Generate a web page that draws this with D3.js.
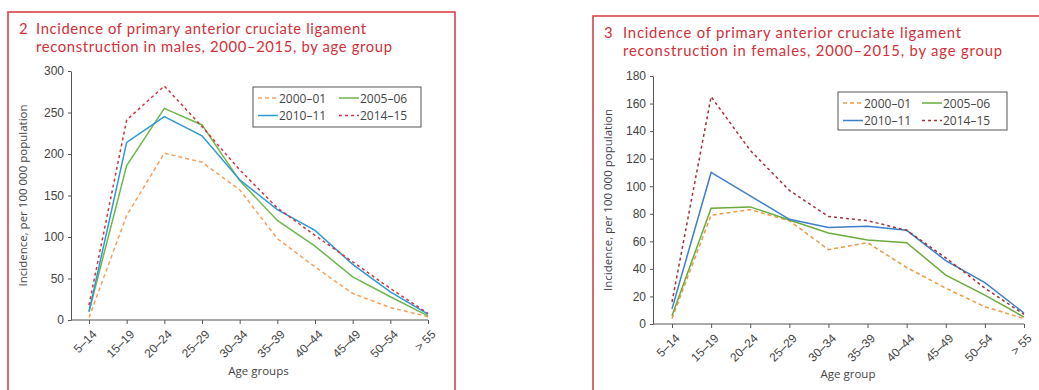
<!DOCTYPE html>
<html lang="en">
<head>
<meta charset="utf-8">
<title>ACL reconstruction incidence</title>
<script src="https://d3js.org/d3.v7.min.js"></script>
<style>
  body{margin:0;background:#fff;font-family:"Open Sans",sans-serif;}
  .tick text{font-size:12px;fill:#444;}
  .axis path,.axis line{stroke:#555;}
  .title{font-family:Lato,sans-serif;font-size:14.8px;fill:#d22f38;}
</style>
</head>
<body>
<svg id="fig" width="1039" height="390"></svg>
<script>
// age groups on the x axis
var ageGroups = ["5–14","15–19","20–24","25–29","30–34","35–39","40–44","45–49","50–54","> 55"]
var seriesNames = ["2000–01","2005–06","2010–11","2014–15"]

// males, per 100 000 population
var male2000 = [3,126,201,190,157,98,64,32,15,4]
var male2005 = [10,186,255,235,168,120,89,52,28,5]
var male2010 = [10,214,245,222,169,133,108,67,34,7]
var male2014 = [18,241,282,233,181,135,102,70,38,8]
var maleTicks = [0,50,100,150,200,250,300]

// females, per 100 000 population
var female2000 = [4,79,83,75,54,59,41,26,12.5,4]
var female2005 = [6,84,85,75.5,66,61,59,35.5,21,5]
var female2010 = [11,110,93,76,70,71,68,46,30,8]
var female2014 = [16,165,126,97,78,75,68,48,26,7]
var femaleTicks = [0,20,40,60,80,100,120,140,160,180]

var svg = d3.select("#fig")

function drawPanel(p){
    var g = svg.append("g")

    //red frame, runs off the bottom (and right for panel 3)
    g.append("rect")
        .attr("x",p.frame[0]).attr("y",p.frame[1])
        .attr("width",p.frame[2]).attr("height",p.frame[3])
        .attr("fill","none").attr("stroke","#d9434c").attr("stroke-width",1.6)

    //title, stretched to the widths of the printed title
    g.append("text").attr("class","title").attr("x",p.numX).attr("y",p.titleY).text(p.num)
    p.title.forEach(function(t,i){
        g.append("text").attr("class","title")
            .attr("x",p.titleX).attr("y",p.titleY+18*i)
            .attr("textLength",p.titleW[i]).attr("lengthAdjust","spacing")
            .text(t)
    })

    var x = d3.scalePoint().domain(ageGroups).range([p.x0,p.x1])
    var y = d3.scaleLinear().domain([0,p.ymax]).range([p.y0,p.y1])

    //x axis: line from y axis to last tick
    var xa = g.append("g").attr("class","axis")
        .attr("transform","translate(0,"+p.y0+")")
        .call(d3.axisBottom(x).tickSize(4).tickSizeOuter(0))
    xa.select(".domain").attr("d","M"+p.axisX+",0H"+p.x1)
    xa.selectAll(".tick text")
        .attr("text-anchor","end")
        .attr("dx","0").attr("dy","0")
        .attr("transform","translate(3,10) rotate(-45)")

    g.append("g").attr("class","axis")
        .attr("transform","translate("+p.axisX+",0)")
        .call(d3.axisLeft(y).tickValues(p.ticks).tickSize(3).tickSizeOuter(0).tickPadding(4))

    //axis titles
    g.append("text")
        .attr("transform","translate("+p.ylabX+","+((p.y0+p.y1)/2)+") rotate(-90)")
        .attr("text-anchor","middle").attr("fill","#444").style("font-size","11.5px")
        .text("Incidence, per 100 000 population")
    g.append("text").attr("x",(p.x0+p.x1)/2).attr("y",p.xlabY)
        .attr("text-anchor","middle").attr("fill","#444").style("font-size","11.5px")
        .text(p.xlab)

    //lines
    var line = d3.line()
        .x(function(d,i){return x(ageGroups[i])})
        .y(function(d){return y(d)})

    p.series.forEach(function(s,i){
        g.append("path")
            .attr("d",line(s))
            .attr("fill","none")
            .attr("stroke",p.colors[i])
            .attr("stroke-width",1.5)
            .attr("stroke-dasharray",p.dashes[i])
    })

    //legend
    var lg = g.append("g").attr("transform","translate("+p.legend[0]+","+p.legend[1]+")")
    lg.append("rect").attr("width",p.legend[2]).attr("height",p.legend[3])
        .attr("fill","#fff").attr("stroke","#555").attr("stroke-width",1)
    seriesNames.forEach(function(n,i){
        var cx = 5 + (i%2)*p.legendCol
        var cy = 11 + Math.floor(i/2)*17.5
        lg.append("line").attr("x1",cx).attr("x2",cx+20).attr("y1",cy).attr("y2",cy)
            .attr("stroke",p.colors[i]).attr("stroke-width",1.5)
            .attr("stroke-dasharray",p.dashes[i])
        lg.append("text").attr("x",cx+21).attr("y",cy+4.5)
            .attr("fill","#444").style("font-size","12px").text(n)
    })
}

drawPanel({
    frame:[8,12,447,400], num:"2", numX:19, titleX:36, titleY:33.5, titleW:[330,356],
    title:["Incidence of primary anterior cruciate ligament","reconstruction in males, 2000–2015, by age group"],
    axisX:71, x0:89, x1:428, y0:320, y1:71, ymax:300, ticks:maleTicks,
    ylabX:27, xlab:"Age groups", xlabY:375,
    series:[male2000,male2005,male2010,male2014],
    colors:["#f4a160","#6db84a","#2b9ad6","#d3333f"],
    dashes:["4,3",null,null,"3,3"],
    legend:[253,87,168,40], legendCol:81
})

drawPanel({
    frame:[593,16,460,400], num:"3", numX:604, titleX:623, titleY:37.5, titleW:[338,379],
    title:["Incidence of primary anterior cruciate ligament","reconstruction in females, 2000–2015, by age group"],
    axisX:653, x0:672, x1:1024, y0:324, y1:76, ymax:180, ticks:femaleTicks,
    ylabX:612, xlab:"Age group", xlabY:378,
    series:[female2000,female2005,female2010,female2014],
    colors:["#e99a45","#6aab3c","#3d7fc7","#a4303a"],
    dashes:["4,3",null,null,"3,3"],
    legend:[838,92,169,38], legendCol:79
})
</script>
</body>
</html>
